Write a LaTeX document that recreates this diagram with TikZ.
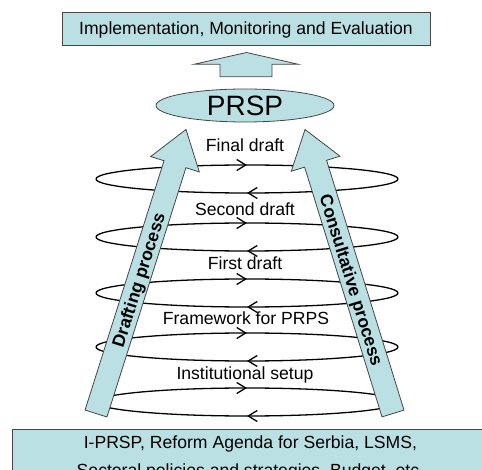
\documentclass[tikz,border=0pt]{standalone}
\usepackage{fontspec}
\setmainfont{Liberation Sans}
\usetikzlibrary{calc,shapes.geometric,decorations.markings,arrows.meta}
\definecolor{paleblue}{RGB}{187,224,227}
\definecolor{edgegray}{RGB}{70,70,70}
\tikzset{
	boxfill/.style={fill=paleblue,draw=edgegray,line width=0.8pt},
	lbl/.style={font=\fontsize{17.6}{21}\selectfont,text height=12.6pt,text depth=0pt,inner sep=0pt},
	boldlbl/.style={lbl,font=\fontsize{17.6}{21}\selectfont\bfseries},
	halfring/.style={line width=1.3pt,postaction={decorate},
		decoration={markings,mark=at position 0.5 with {\arrow{Straight Barb[length=9pt,width=11pt,line width=1.3pt]}}}},
}
\newcommand{\ring}[2]{\draw[halfring] (96,#2) coordinate (#1w) arc[start angle=180,end angle=360,x radius=151,y radius=14];\draw[halfring] (398,#2) coordinate (#1e) arc[start angle=0,end angle=180,x radius=151,y radius=14];}
\newcommand{\bigarrow}[2]{\coordinate (#1h) at ($(#1)!261.5pt!(#2)$);\draw[boxfill] ($(#1)!11.5pt!90:(#2)$) -- ($(#1h)!11.5pt!90:(#2)$) -- ($(#1h)!25.5pt!90:(#2)$) -- (#2) -- ($(#1h)!25.5pt!-90:(#2)$) -- ($(#1h)!11.5pt!-90:(#2)$) -- ($(#1)!11.5pt!-90:(#2)$) -- cycle;}

\begin{document}
\begin{tikzpicture}[x=1pt,y=-1pt]
	\useasboundingbox (0,0) rectangle (482,470);
	\clip (0,0) rectangle (482,470);

	\node[boxfill,lbl,minimum width=368pt,minimum height=33pt] (impl) at (246,28.5) {Implementation, Monitoring and Evaluation};
	\draw[boxfill] (220,76.7) -- (272,76.7) -- (272,64.3) -- (298.3,64.3) -- (246.5,52.5) -- (194,64.3) -- (220,64.3) -- cycle;
	\node[boxfill,ellipse,minimum width=178pt,minimum height=33pt,inner sep=0pt,font=\fontsize{28}{32}\selectfont] (prsp) at (245,105.5) {PRSP};

	% loops behind the two arrows
	\ring{final}{179}
	\ring{second}{237}
	\ring{first}{293}
	\ring{frame}{347}
	\ring{inst}{402}

	\coordinate (dbase) at (96,413.5);
	\coordinate (dtip) at (186,129.5);
	\coordinate (cbase) at (393,413.5);
	\coordinate (ctip) at (305,129.5);
	\bigarrow{dbase}{dtip}
	\bigarrow{cbase}{ctip}
	\path (dbase) -- (dtip) node[boldlbl,pos=0.47,sloped] (drafting) {Drafting process};
	\path (ctip) -- (cbase) node[boldlbl,pos=0.53,sloped] (consult) {Consultative process};

	\node[lbl] (finaltxt) at (245,145) {Final draft};
	\node[lbl] (secondtxt) at (245,209) {Second draft};
	\node[lbl] (firsttxt) at (245,263) {First draft};
	\node[lbl] (frametxt) at (246,318) {Framework for PRPS};
	\node[lbl] (insttxt) at (245,373) {Institutional setup};

	\node[boxfill,anchor=north west,minimum width=476pt,minimum height=57pt,inner sep=0pt,align=center,font=\fontsize{17.6}{28}\selectfont] (sources) at (12,429) {I-PRSP, Reform Agenda for Serbia, LSMS,\\Sectoral policies and strategies, Budget, etc.};
\end{tikzpicture}
\end{document}
